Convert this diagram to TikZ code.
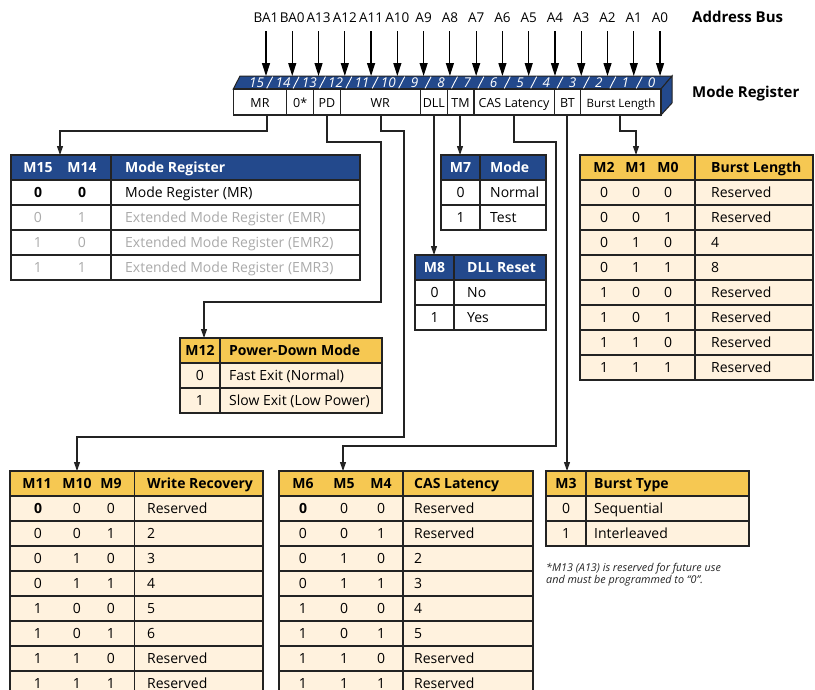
\documentclass[tikz,border=0pt]{standalone}
\usepackage{fontspec}
\setmainfont{Open Sans}
\usetikzlibrary{arrows.meta}
\definecolor{mblue}{RGB}{35,73,140}
\definecolor{myel}{RGB}{246,200,82}
\definecolor{mcream}{RGB}{255,242,222}
\definecolor{mgray}{RGB}{170,170,170}
\definecolor{mline}{RGB}{35,35,35}
\newcommand\mytable[7]{%
  \fill[#6] (#1,#4) rectangle (#3,#4+25);
  \fill[#7] (#1,#4+25) rectangle (#3,#4+25+25*#5);
  \foreach \rr in {1,...,#5}{\draw[tbl] (#1,#4+25*\rr) -- (#3,#4+25*\rr);}
  \draw[tbl] (#2,#4) -- (#2,#4+25+25*#5);
  \draw[tbl] (#1,#4) rectangle (#3,#4+25+25*#5);
}
\begin{document}
\begin{tikzpicture}[x=1pt,y=-1pt,line join=miter,
  tbl/.style={draw=mline,line width=1.3pt},
  conn/.style={draw=mline,line width=1.1pt,-{Triangle[length=9pt,width=6pt]}},
  bus/.style={draw=black,line width=1.2pt,-{Triangle[length=13pt,width=8pt]}},
  f14/.style={font=\fontsize{14}{16}\selectfont},
  bit/.style={f14,anchor=base,inner sep=0pt},
  lab/.style={f14,anchor=base west,inner sep=0pt},
  hbit/.style={font=\fontsize{14}{16}\selectfont\bfseries,anchor=base,inner sep=0pt},
  hlab/.style={font=\fontsize{14}{16}\selectfont\bfseries,anchor=base west,inner sep=0pt},
  ftxt/.style={font=\fontsize{12.5}{14}\selectfont,anchor=base,inner sep=0pt},
  title/.style={font=\fontsize{15}{17}\selectfont\bfseries,anchor=base west,inner sep=0pt},
]
\useasboundingbox (0,0) rectangle (815,689);
\fill[white] (0,0) rectangle (815,689);

% ---------- address bus ----------
\foreach \n [count=\k from 0] in {BA1,BA0,A13,A12,A11,A10,A9,A8,A7,A6,A5,A4,A3,A2,A1,A0}{
  \pgfmathsetmacro\xx{266+\k*26.27}
  \node[font=\fontsize{13.5}{16}\selectfont,inner sep=0pt,anchor=base] (bus\k) at (\xx,22) {\n};
  \coordinate (tip\k) at (\xx,76);
  \draw[bus] ([yshift=-9pt]bus\k.south) -- (tip\k);
}
\node[title] (abus) at (692,22) {Address Bus};
\node[title] (mreg) at (692,97) {Mode Register};

% ---------- register ----------
\filldraw[fill=mblue,draw=mline,line width=1pt] (233.3,89) -- (240,76) -- (672,76) -- (661,89) -- cycle;
\filldraw[fill=mblue,draw=mline,line width=1pt] (661,89) -- (672,76) -- (672,103) -- (661,115) -- cycle;
\filldraw[fill=white,draw=mline,line width=1.2pt] (233.3,89) rectangle (661,115);
\foreach \k in {1,...,15}{
  \pgfmathsetmacro\xb{233.3+\k*26.73+7-5*\k/15}
  \draw[white,line width=0.9pt] (\xb,88.3) -- (\xb+6,76.7);
}
\foreach \i [count=\k from 0] in {15,14,...,0}{
  \pgfmathsetmacro\xd{233.3+(\k+0.5)*26.73+10-6*\k/15}
  \node[text=white,font=\fontsize{13.5}{14}\selectfont\itshape,inner sep=0pt,anchor=base] (dg\i) at (\xd,87.5) {\i};
}
\foreach \x in {286.8,313.5,340.2,420.4,447.1,473.9,554.1,580.8}{
  \draw[mline,line width=1.2pt] (\x,89) -- (\x,115);
}
\node[ftxt] (fMR) at (260,107) {MR};
\node[ftxt] (fZ) at (300.2,107) {0*};
\node[ftxt] (fPD) at (326.9,107) {PD};
\node[ftxt] (fWR) at (380.3,107) {WR};
\node[ftxt] (fDLL) at (433.8,107) {DLL};
\node[ftxt] (fTM) at (460.5,107) {TM};
\node[ftxt] (fCAS) at (514,107) {CAS Latency};
\node[ftxt] (fBT) at (567.5,107) {BT};
\node[ftxt,font=\fontsize{11.5}{13}\selectfont] (fBL) at (621,107) {Burst Length};

\coordinate (sMR) at (267,115);
\coordinate (sPD) at (327,115);
\coordinate (sWR) at (381,115);
\coordinate (sDLL) at (434,115);
\coordinate (sTM) at (460,115);
\coordinate (sCAS) at (514,115);
\coordinate (sBT) at (567,115);
\coordinate (sBL) at (620,115);

% ---------- tables ----------
\mytable{11}{111}{360}{155}{4}{mblue}{white}
\mytable{180}{220}{382}{338}{2}{myel}{mcream}
\mytable{441}{480}{546}{155}{2}{mblue}{white}
\mytable{415}{454}{546}{255}{2}{mblue}{white}
\mytable{580}{695}{813}{155}{8}{myel}{mcream}
\mytable{10}{134.5}{263}{471}{8}{myel}{mcream}
\mytable{279}{403}{533}{471}{8}{myel}{mcream}
\mytable{546}{586}{749}{471}{2}{myel}{mcream}

\coordinate (tMR) at (60,155);
\coordinate (tPD) at (204,338);
\coordinate (tTM) at (460,155);
\coordinate (tDLL) at (434,255);
\coordinate (tBL) at (636,155);
\coordinate (tWR) at (77,471);
\coordinate (tCAS) at (343,471);
\coordinate (tBT) at (567,471);

% MR table
\node[hbit,text=white] (h15) at (38,172.3) {M15};
\node[hbit,text=white] (h14) at (82,172.3) {M14};
\node[hlab,text=white] (hmr) at (125,172.3) {Mode Register};
\node[hbit] (mr1a) at (38,197.3) {0};
\node[hbit] (mr1b) at (82,197.3) {0};
\node[lab] (mr1t) at (125,197.3) {Mode Register (MR)};
\foreach \a/\b/\t [count=\r from 2] in {0/1/Extended Mode Register (EMR),1/0/Extended Mode Register (EMR2),1/1/Extended Mode Register (EMR3)}{
  \node[bit,text=mgray] (mr\r a) at (38,172.3+25*\r) {\a};
  \node[bit,text=mgray] (mr\r b) at (82,172.3+25*\r) {\b};
  \node[lab,text=mgray] (mr\r t) at (125,172.3+25*\r) {\t};
}

% M12 table
\node[hbit] (h12) at (200,355.3) {M12};
\node[hlab] (hpd) at (229,355.3) {Power-Down Mode};
\node[bit] (pd1a) at (200,380.3) {0};
\node[lab] (pd1t) at (229,380.3) {Fast Exit (Normal)};
\node[bit] (pd2a) at (200,405.3) {1};
\node[lab] (pd2t) at (229,405.3) {Slow Exit (Low Power)};

% M7 table
\node[hbit,text=white] (h7) at (460.5,172.3) {M7};
\node[hlab,text=white] (htm) at (490,172.3) {Mode};
\node[bit] (tm1a) at (460.5,197.3) {0};
\node[lab] (tm1t) at (490,197.3) {Normal};
\node[bit] (tm2a) at (460.5,222.3) {1};
\node[lab] (tm2t) at (490,222.3) {Test};

% M8 table
\node[hbit,text=white] (h8) at (434.5,272.3) {M8};
\node[hlab,text=white] (hdll) at (467,272.3) {DLL Reset};
\node[bit] (dl1a) at (434.5,297.3) {0};
\node[lab] (dl1t) at (467,297.3) {No};
\node[bit] (dl2a) at (434.5,322.3) {1};
\node[lab] (dl2t) at (467,322.3) {Yes};

% Burst length table
\node[hbit] (h2) at (604,172.3) {M2};
\node[hbit] (h1) at (636,172.3) {M1};
\node[hbit] (h0) at (668,172.3) {M0};
\node[hlab] (hbl) at (711,172.3) {Burst Length};
\foreach \a/\b/\c/\t [count=\r] in {0/0/0/Reserved,0/0/1/Reserved,0/1/0/4,0/1/1/8,1/0/0/Reserved,1/0/1/Reserved,1/1/0/Reserved,1/1/1/Reserved}{
  \node[bit] (bl\r a) at (604,172.3+25*\r) {\a};
  \node[bit] (bl\r b) at (636,172.3+25*\r) {\b};
  \node[bit] (bl\r c) at (668,172.3+25*\r) {\c};
  \node[lab] (bl\r t) at (711,172.3+25*\r) {\t};
}

% Write recovery table
\node[hbit] (h11) at (37,488.3) {M11};
\node[hbit] (h10) at (77,488.3) {M10};
\node[hbit] (h9) at (111,488.3) {M9};
\node[hlab] (hwr) at (147,488.3) {Write Recovery};
\foreach \a/\b/\c/\t [count=\r] in {0/0/0/Reserved,0/0/1/2,0/1/0/3,0/1/1/4,1/0/0/5,1/0/1/6,1/1/0/Reserved,1/1/1/Reserved}{
  \node[bit] (wr\r a) at (38,488.3+25*\r) {\ifnum\r=1 \bfseries\fi\a};
  \node[bit] (wr\r b) at (77,488.3+25*\r) {\b};
  \node[bit] (wr\r c) at (111,488.3+25*\r) {\c};
  \node[lab] (wr\r t) at (147,488.3+25*\r) {\t};
}

% CAS latency table
\node[hbit] (h6) at (303,488.3) {M6};
\node[hbit] (h5) at (344,488.3) {M5};
\node[hbit] (h4) at (381,488.3) {M4};
\node[hlab] (hcas) at (414,488.3) {CAS Latency};
\foreach \a/\b/\c/\t [count=\r] in {0/0/0/Reserved,0/0/1/Reserved,0/1/0/2,0/1/1/3,1/0/0/4,1/0/1/5,1/1/0/Reserved,1/1/1/Reserved}{
  \node[bit] (ca\r a) at (303,488.3+25*\r) {\ifnum\r=1 \bfseries\fi\a};
  \node[bit] (ca\r b) at (344,488.3+25*\r) {\b};
  \node[bit] (ca\r c) at (381,488.3+25*\r) {\c};
  \node[lab] (ca\r t) at (414,488.3+25*\r) {\t};
}

% Burst type table
\node[hbit] (h3) at (566,488.3) {M3};
\node[hlab] (hbt) at (594,488.3) {Burst Type};
\node[bit] (bt1a) at (566,513.3) {0};
\node[lab] (bt1t) at (594,513.3) {Sequential};
\node[bit] (bt2a) at (566,538.3) {1};
\node[lab] (bt2t) at (594,538.3) {Interleaved};

\node[font=\fontsize{10.8}{12}\selectfont\itshape,anchor=base west,inner sep=0pt,text=mline] (fn1) at (546,571.5) {*M13 (A13) is reserved for future use};
\node[font=\fontsize{10.8}{12}\selectfont\itshape,anchor=base west,inner sep=0pt,text=mline] (fn2) at (546,583) {and must be programmed to “0”.};

% ---------- connectors ----------
\draw[conn] (sMR) -- (267,131) -- (60,131) -- (tMR);
\draw[conn] (sPD) -- (327,142) -- (381,142) -- (381,302) -- (204,302) -- (tPD);
\draw[conn] (sWR) -- (381,131) -- (404,131) -- (404,437) -- (77,437) -- (tWR);
\draw[conn] (sDLL) -- (tDLL);
\draw[conn] (sTM) -- (tTM);
\draw[conn] (sCAS) -- (514,142) -- (556,142) -- (556,446) -- (343,446) -- (tCAS);
\draw[conn] (sBT) -- (tBT);
\draw[conn] (sBL) -- (620,131) -- (636,131) -- (tBL);
\end{tikzpicture}
\end{document}
